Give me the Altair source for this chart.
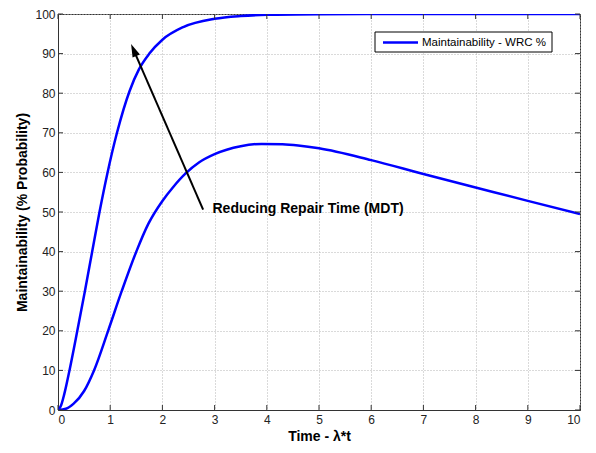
import math
import altair as alt
import pandas as pd

# ---- data ----
fast_x = [0, 0.06, 0.12, 0.22, 0.37, 0.515, 0.655, 0.795, 0.95, 1.13, 1.37, 1.55, 1.75, 2.0, 2.4, 3.0, 3.5, 4.0, 5.0, 6.0, 8.0, 10.0]
fast_y = [0, 1.2, 4.0, 10, 20, 30, 40, 50, 60, 70, 80.5, 86.0, 90, 93.5, 96.7, 98.8, 99.5, 99.8, 99.96, 100, 100, 100]

slow_x = [0, 0.15, 0.3, 0.5, 0.69, 0.96, 1.22, 1.5, 1.73, 2.0, 2.2, 2.45, 2.7, 3.0, 3.5, 3.9, 4.3, 4.6, 5.0, 6.0, 7.0, 8.0, 9.0, 10.0]
slow_y = [0, 0.3, 1.6, 4.8, 10, 20, 30, 40, 47, 52.8, 56.2, 59.8, 62.5, 64.6, 66.6, 67.2, 67.1, 66.8, 66.1, 63.1, 59.6, 56.2, 52.8, 49.5]

x_ticks = list(range(0, 11))
y_ticks = list(range(0, 101, 10))

arrow_tail = [2.78, 50.6]
arrow_tip = [1.40, 92.4]
note_pos = [2.96, 50.8]
note_text = "Reducing Repair Time (MDT)"
legend_label = "Maintainability - WRC %"

x_title = "Time - λ*t"
y_title = "Maintainability (% Probability)"

# ---- layout ----
W, H = 522, 396
FONT = "Liberation Sans"
BLUE = "#0000ff"
AX = "#333333"

xs = alt.Scale(domain=[0, 10], nice=False, zero=False)
ys = alt.Scale(domain=[0, 100], nice=False, zero=False)
x_axis = alt.Axis(values=x_ticks, title=x_title, grid=True, ticks=False,
                  labelPadding=4, titlePadding=4, format="d")
y_axis = alt.Axis(values=y_ticks, title=y_title, grid=True, ticks=False,
                  labelPadding=3, titlePadding=5, format="d")


def X(field):
    return alt.X(field, scale=xs, axis=x_axis)


def Y(field):
    return alt.Y(field, scale=ys, axis=y_axis)


curves = pd.DataFrame(
    {"x": fast_x + slow_x,
     "y": fast_y + slow_y,
     "series": ["fast"] * len(fast_x) + ["slow"] * len(slow_x)}
)

lines = alt.Chart(curves).mark_line(
    color=BLUE, strokeWidth=2.5, interpolate="monotone", clip=True
).encode(x=X("x:Q"), y=Y("y:Q"), detail="series:N")

# inward ticks on all four sides
xt = pd.DataFrame({"x": x_ticks})
yt = pd.DataFrame({"y": y_ticks})
tick_len = 5
tb = alt.Chart(xt).mark_rule(color=AX, strokeWidth=1).encode(
    x=X("x:Q"), y=alt.value(H), y2=alt.value(H - tick_len))
tt = alt.Chart(xt).mark_rule(color=AX, strokeWidth=1).encode(
    x=X("x:Q"), y=alt.value(0), y2=alt.value(tick_len))
tl = alt.Chart(yt).mark_rule(color=AX, strokeWidth=1).encode(
    y=Y("y:Q"), x=alt.value(0), x2=alt.value(tick_len))
tr = alt.Chart(yt).mark_rule(color=AX, strokeWidth=1).encode(
    y=Y("y:Q"), x=alt.value(W), x2=alt.value(W - tick_len))

# arrow
px_x = W / 10.0
px_y = H / 100.0
dxp = (arrow_tip[0] - arrow_tail[0]) * px_x
dyp = (arrow_tip[1] - arrow_tail[1]) * px_y
L = math.hypot(dxp, dyp)
head_half = 6.5
head_cx = arrow_tip[0] - head_half * dxp / L / px_x
head_cy = arrow_tip[1] - head_half * dyp / L / px_y
angle = math.degrees(math.atan2(dxp, dyp)) % 360

arrow_df = pd.DataFrame({"x": [arrow_tail[0]], "y": [arrow_tail[1]],
                         "x2": [head_cx], "y2": [head_cy]})
shaft = alt.Chart(arrow_df).mark_rule(color="black", strokeWidth=2).encode(
    x=X("x:Q"), y=Y("y:Q"), x2="x2:Q", y2="y2:Q")
head_df = pd.DataFrame({"x": [head_cx], "y": [head_cy]})
head = alt.Chart(head_df).mark_point(
    shape="M0,-1L0.62,1L-0.62,1Z", filled=True, color="black", opacity=1,
    size=(2 * head_half) ** 2, angle=angle, strokeWidth=0
).encode(x=X("x:Q"), y=Y("y:Q"))

note_df = pd.DataFrame({"x": [note_pos[0]], "y": [note_pos[1]], "t": [note_text]})
note = alt.Chart(note_df).mark_text(
    align="left", baseline="middle", fontSize=14, fontWeight="bold",
    font=FONT, color="black"
).encode(x=X("x:Q"), y=Y("y:Q"), text="t:N")

# legend (manual, MATLAB style)
one = pd.DataFrame({"k": [legend_label]})
lbox = alt.Chart(one).mark_rect(fill="white", stroke="black", strokeWidth=1).encode(
    x=alt.value(317), x2=alt.value(494), y=alt.value(18), y2=alt.value(38))
lline = alt.Chart(one).mark_rule(color=BLUE, strokeWidth=2.5).encode(
    x=alt.value(325), x2=alt.value(360), y=alt.value(28.5))
ltext = alt.Chart(one).mark_text(
    align="left", baseline="middle", fontSize=11.5, font=FONT, color="black"
).encode(x=alt.value(364), y=alt.value(28.5), text="k:N")

chart = alt.layer(
    lines, tb, tt, tl, tr, shaft, head, note, lbox, lline, ltext
).properties(
    width=W, height=H,
    autosize=alt.AutoSizeParams(type="none"),
    padding={"left": 50, "top": 6, "right": 7, "bottom": 34},
).configure_view(
    stroke=AX, strokeWidth=1
).configure_axis(
    domainColor=AX, domainWidth=1,
    gridColor="#b4b4b4", gridDash=[1, 2], gridWidth=1,
    labelFont=FONT, labelFontSize=12, labelColor="#222222",
    titleFont=FONT, titleFontSize=14, titleFontWeight="bold", titleColor="black",
)

chart.save("out.html", embed_options={"renderer": "svg", "actions": False})
